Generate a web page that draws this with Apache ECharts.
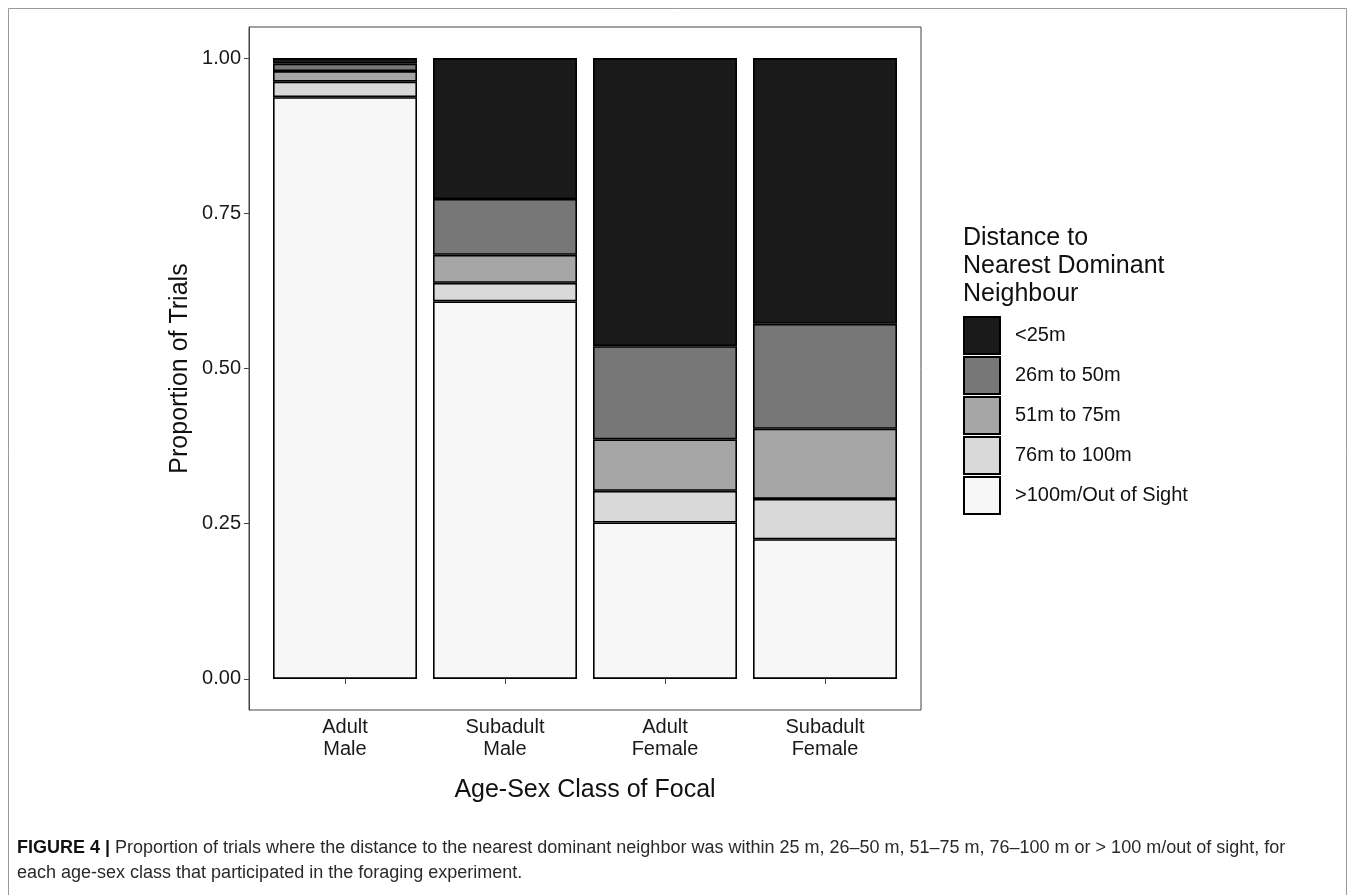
<!DOCTYPE html>
<html>
<head>
<meta charset="utf-8">
<script src="https://cdn.jsdelivr.net/npm/echarts@6/dist/echarts.min.js"></script>
<style>html,body{margin:0;padding:0;background:#fff}#c{width:1355px;height:895px}</style>
</head>
<body>
<div id="c"></div>
<script>
const categories = ['Adult\nMale', 'Subadult\nMale', 'Adult\nFemale', 'Subadult\nFemale'];
const legendOrder = ['<25m', '26m to 50m', '51m to 75m', '76m to 100m', '>100m/Out of Sight'];
// values per category (proportion of trials)
const over100 = [0.937, 0.608, 0.252, 0.225];
const d76to100 = [0.025, 0.030, 0.051, 0.065];
const d51to75 = [0.017, 0.045, 0.083, 0.113];
const d26to50 = [0.012, 0.090, 0.150, 0.169];
const under25 = [0.009, 0.227, 0.464, 0.428];
const yTicks = [0, 0.25, 0.5, 0.75, 1];

const FONT = 'Liberation Sans, Arial, sans-serif';
const stackSeries = [
  { name: '>100m/Out of Sight', data: over100, color: '#f7f7f7' },
  { name: '76m to 100m', data: d76to100, color: '#d9d9d9' },
  { name: '51m to 75m', data: d51to75, color: '#a6a6a6' },
  { name: '26m to 50m', data: d26to50, color: '#777777' },
  { name: '<25m', data: under25, color: '#1a1a1a' }
];

const chart = echarts.init(document.getElementById('c'), null, { renderer: 'canvas' });
chart.setOption({
  animation: false,
  backgroundColor: '#ffffff',
  textStyle: { fontFamily: FONT },
  grid: [
    { left: 249, right: 434, top: 27, bottom: 185, show: true, borderColor: '#444', borderWidth: 1, backgroundColor: 'transparent' },
    { left: 265, right: 450, top: 27, bottom: 185, show: false }
  ],
  title: {
    text: 'Distance to\nNearest Dominant\nNeighbour',
    left: 958, top: 219,
    textStyle: { fontFamily: FONT, fontSize: 25, fontWeight: 'normal', color: '#111', lineHeight: 28 }
  },
  legend: {
    data: legendOrder,
    orient: 'vertical',
    left: 958, top: 311,
    itemWidth: 36, itemHeight: 37, itemGap: 1,
    icon: 'rect',
    textStyle: { fontFamily: FONT, fontSize: 20, color: '#111', padding: [0, 0, 0, 10] },
    selectedMode: false
  },
  xAxis: [
    { type: 'value', gridIndex: 0, min: 0, max: 1, show: false },
    {
      type: 'category', gridIndex: 1, data: categories,
      name: 'Age-Sex Class of Focal', nameLocation: 'middle', nameGap: 68,
      nameTextStyle: { fontFamily: FONT, fontSize: 25, color: '#111' },
      axisLine: { show: false },
      axisTick: { show: true, alignWithLabel: true, length: 5, lineStyle: { color: '#444' } },
      axisLabel: { fontFamily: FONT, fontSize: 20, color: '#1a1a1a', lineHeight: 22, margin: 6 },
      splitLine: { show: false }
    }
  ],
  yAxis: [
    {
      type: 'value', gridIndex: 0, min: -0.05, max: 1.05,
      name: 'Proportion of Trials', nameLocation: 'middle', nameGap: 56,
      nameTextStyle: { fontFamily: FONT, fontSize: 25, color: '#111' },
      axisLine: { show: true, lineStyle: { color: '#444' } },
      axisTick: { show: true, length: 5, customValues: yTicks, lineStyle: { color: '#444' } },
      axisLabel: { customValues: yTicks, fontFamily: FONT, fontSize: 20, color: '#1a1a1a', margin: 8,
        formatter: v => v.toFixed(2) },
      splitLine: { show: false }
    },
    { type: 'value', gridIndex: 1, min: -0.05, max: 1.05, show: false }
  ],
  series: stackSeries.map(s => ({
    name: s.name,
    type: 'bar',
    xAxisIndex: 1,
    yAxisIndex: 1,
    stack: 'total',
    barWidth: 144,
    data: s.data,
    itemStyle: { color: s.color, borderColor: '#000', borderWidth: 1.6 }
  })),
  graphic: [
    { type: 'rect', shape: { x: 8.5, y: 8.5, width: 1338, height: 900 }, style: { fill: 'none', stroke: '#9a9a9a', lineWidth: 1 }, silent: true },
    { type: 'text', left: 17, top: 836, style: {
      text: '{b|FIGURE 4 | }Proportion of trials where the distance to the nearest dominant neighbor was within 25 m, 26–50 m, 51–75 m, 76–100 m or > 100 m/out of sight, for\neach age-sex class that participated in the foraging experiment.',
      font: '18px ' + FONT, fill: '#2a2a2a', lineHeight: 25,
      rich: { b: { fontWeight: 'bold', fontSize: 18, fontFamily: FONT, fill: '#111' } }
    } }
  ]
});
</script>
</body>
</html>
